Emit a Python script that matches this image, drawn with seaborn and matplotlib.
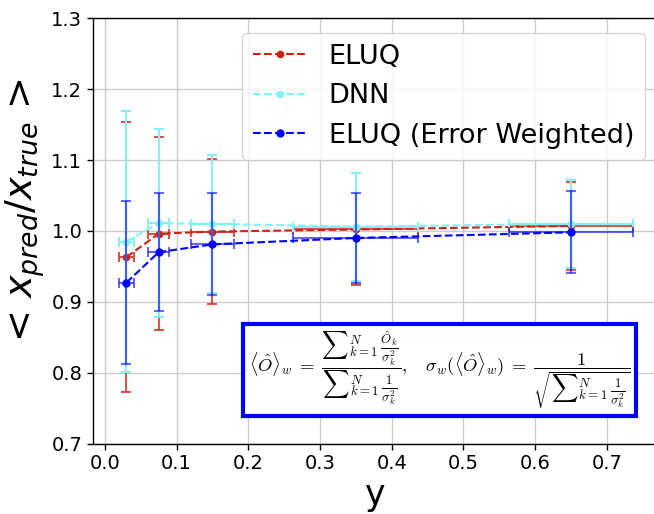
import matplotlib
matplotlib.use("Agg")
import matplotlib.pyplot as plt
import seaborn as sns
import numpy as np

# ---- data ----
y_bins = [0.03, 0.075, 0.15, 0.35, 0.65]
y_bin_err = [0.011, 0.015, 0.03, 0.087, 0.087]

eluq = [0.963, 0.996, 0.999, 1.002, 1.007]
eluq_err = [0.191, 0.136, 0.102, 0.079, 0.062]

dnn = [0.985, 1.011, 1.010, 1.006, 1.010]
dnn_err = [0.184, 0.133, 0.097, 0.076, 0.062]

eluq_w = [0.927, 0.970, 0.981, 0.990, 0.998]
eluq_w_err = [0.115, 0.083, 0.072, 0.063, 0.058]

labels = ["ELUQ", "DNN", "ELUQ (Error Weighted)"]
y_ticks = [0.7, 0.8, 0.9, 1.0, 1.1, 1.2, 1.3]
x_ticks = [0.0, 0.1, 0.2, 0.3, 0.4, 0.5, 0.6, 0.7]

sns.set_theme(style="ticks")
plt.rcParams['font.family'] = ['DejaVu Sans']
plt.rcParams.update({"text.color": "black", "axes.labelcolor": "black",
                     "xtick.color": "black", "ytick.color": "black"})

W, H = 654, 514
fig = plt.figure(figsize=(W / 100, H / 100), dpi=100)
ax = fig.add_axes([92.7 / W, (H - 443.5) / H, (658.5 - 92.7) / W, (443.5 - 18.3) / H])

series = [
    (eluq, eluq_err, "#cc2211", 1.0, "#d0392b", 0.85, labels[0], 5.5),
    (dnn, dnn_err, "#80f4f4", 1.0, "#88f0f0", 1.0, labels[1], 5.5),
    (eluq_w, eluq_w_err, "blue", 1.0, "blue", 0.6, labels[2], 6.0),
]

for vals, errs, col, a, ecol, ea, lab, ms in series:
    ax.errorbar(y_bins, vals, yerr=errs, xerr=y_bin_err, fmt="none",
                ecolor=ecol, alpha=ea, elinewidth=1.5, capsize=3.5, capthick=1.5)
    sns.lineplot(x=y_bins, y=vals, ax=ax, color=col, alpha=a, linestyle="--",
                 linewidth=1.5, marker="o", markersize=ms, markeredgewidth=0,
                 label=lab)

ax.set_xlim(-0.017, 0.772)
ax.set_ylim(0.7, 1.3)
ax.set_xticks(x_ticks)
ax.set_yticks(y_ticks)
ax.set_xticklabels([f"{t:.1f}" for t in x_ticks])
ax.set_yticklabels([f"{t:.1f}" for t in y_ticks])
ax.tick_params(labelsize=14, length=4, width=1, color="black", labelcolor="black")
ax.grid(True, color="#cccccc", linewidth=1)
for s in ax.spines.values():
    s.set_color("black")
    s.set_linewidth(1)
ax.spines["right"].set_visible(False)

ax.set_xlabel("y", fontsize=25, color="black")
ax.set_ylabel(r"< $x_{pred}/x_{true}$ >", fontsize=27.5, color="black")
ax.yaxis.set_label_coords((47 - 92.7) / (658.5 - 92.7), (443.5 - 211) / (443.5 - 18.3))

leg = ax.legend(loc="upper right", bbox_to_anchor=((645 - 92.7) / (658.5 - 92.7), (443.5 - 33) / (443.5 - 18.3)),
                borderaxespad=0, fontsize=19.5, frameon=True)
for t in leg.get_texts():
    t.set_color("black")

formula = (r"$\langle\hat{O}\rangle_w\;=\;\dfrac{{\sum}_{k=1}^{N}\,\frac{\hat{O}_k}{\sigma_k^2}}"
           r"{{\sum}_{k=1}^{N}\,\frac{1}{\sigma_k^2}},\quad "
           r"\sigma_w(\langle\hat{O}\rangle_w)\;=\;\dfrac{1}{\sqrt{{\sum}_{k=1}^{N}\,\frac{1}{\sigma_k^2}}}$")
ax.text(0.613, 0.173, formula, transform=ax.transAxes, ha="center", va="center",
        fontsize=13.3, math_fontfamily="cm", zorder=10, color="black",
        bbox=dict(boxstyle="square,pad=0.3", facecolor="white", edgecolor="blue", linewidth=3))

fig.savefig("out.png", dpi=100)
